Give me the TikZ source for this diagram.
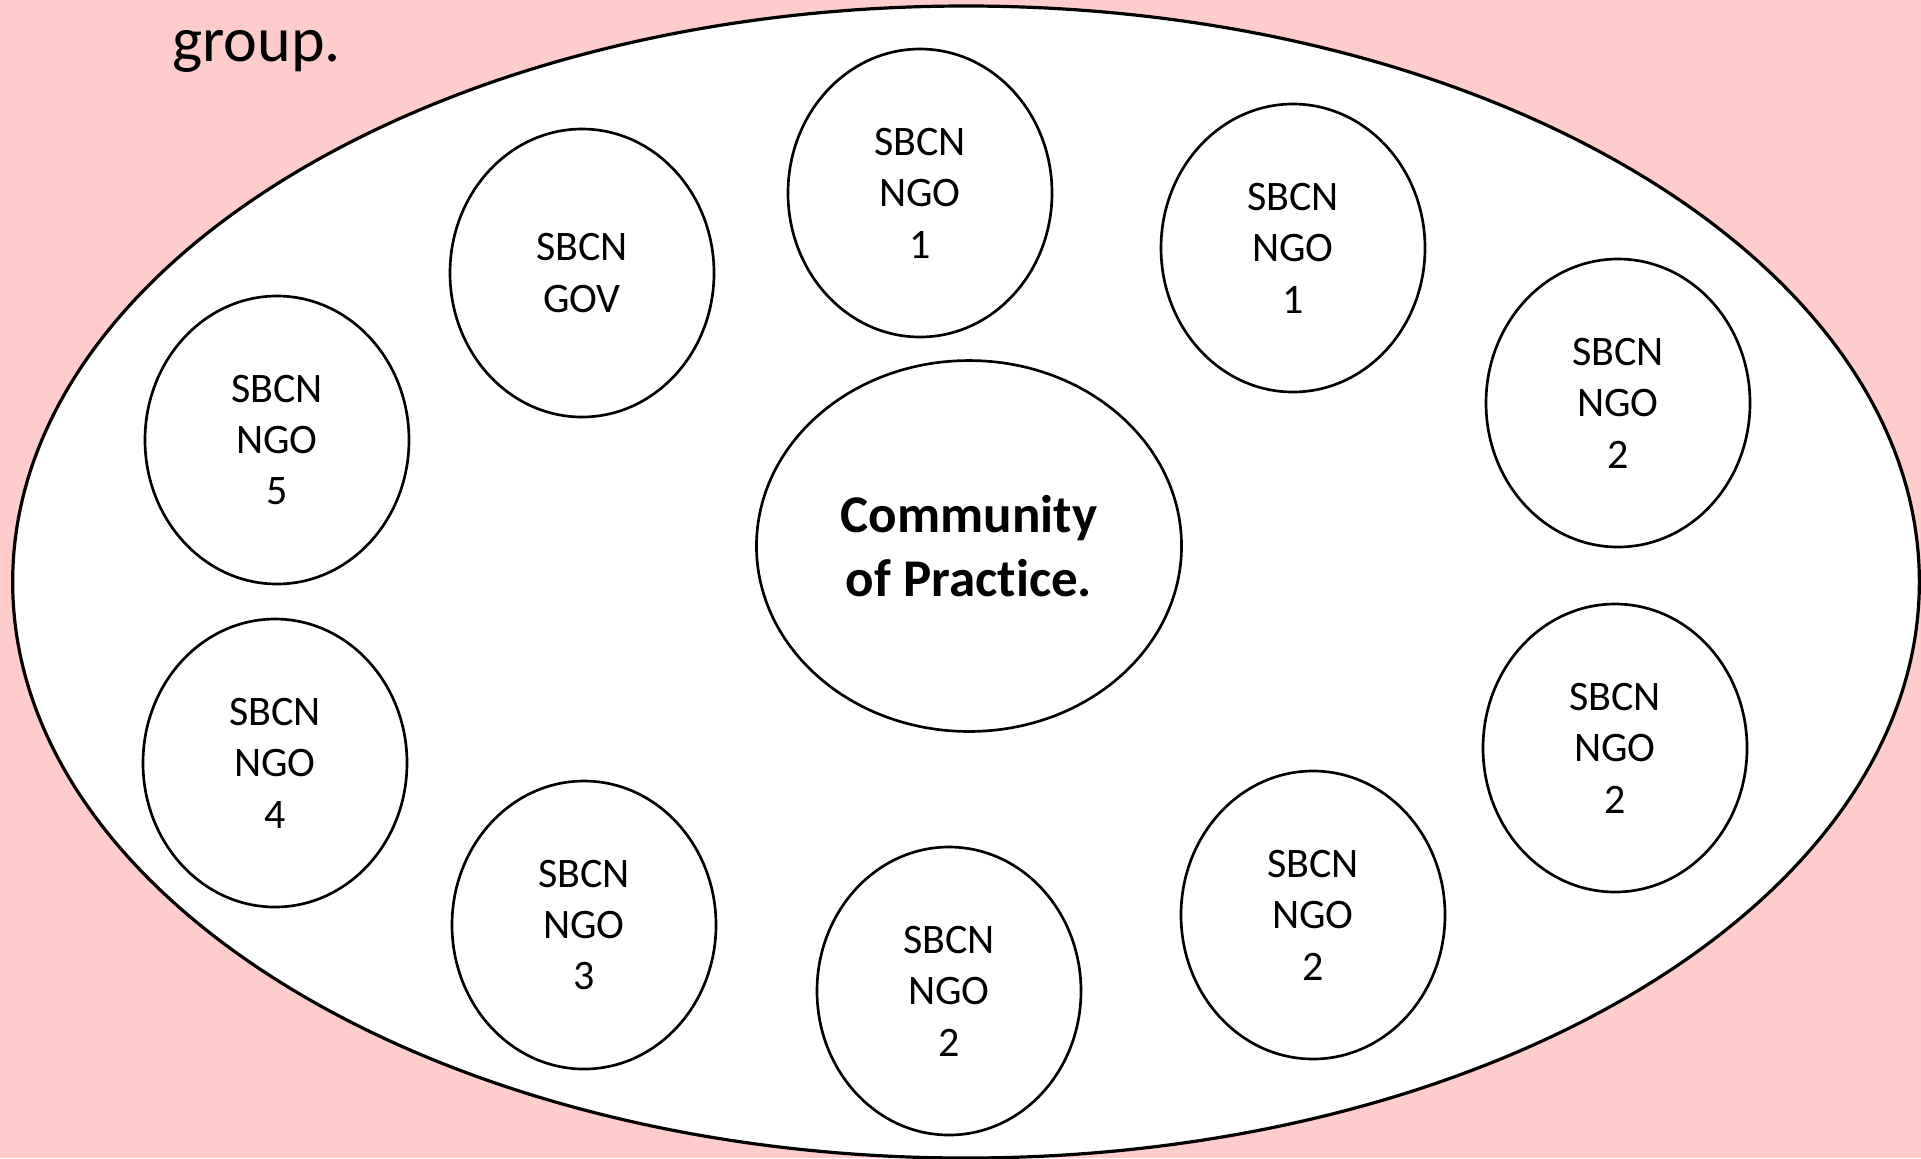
\documentclass[tikz,border=0pt]{standalone}
\usepackage{fontspec}
\setmainfont{Carlito}[Ligatures={NoCommon}]
\usetikzlibrary{shapes.geometric}
\definecolor{bgpink}{HTML}{FFCCCC}
\tikzset{
  member/.style={ellipse, draw=black, line width=1pt, fill=white, inner sep=0pt,
    minimum width=99pt, minimum height=108pt, align=center,
    font=\fontsize{15.75}{19.3}\selectfont},
  core/.style={ellipse, draw=black, line width=1pt, fill=white, inner sep=0pt,
    minimum width=159.4pt, minimum height=139.1pt, align=center,
    font=\fontsize{19.9}{24}\selectfont\bfseries},
  outerring/.style={ellipse, draw=black, line width=1.2pt, fill=white, inner sep=0pt,
    minimum width=715pt, minimum height=432pt},
  caption/.style={anchor=base west, inner sep=0pt, font=\fontsize{24}{29}\selectfont}
}
\begin{document}
\begin{tikzpicture}[x=0.375pt,y=-0.375pt]
\useasboundingbox (0,0) rectangle (1921,1158);
\begin{scope}
\clip (0,0) rectangle (1921,1158);
\fill[bgpink] (0,0) rectangle (1921,1158);
\node[outerring] (outer) at (966,582) {};
\node[caption] (grp) at (172,61) {group.};
\node[member] (gov) at (582,273) {SBCN\\GOV};
\node[member] (ngo1a) at (920,193) {SBCN\\NGO\\1};
\node[member] (ngo1b) at (1293,248) {SBCN\\NGO\\1};
\node[member] (ngo2a) at (1618,403) {SBCN\\NGO\\2};
\node[member] (ngo2b) at (1615,748) {SBCN\\NGO\\2};
\node[member] (ngo2c) at (1313,915) {SBCN\\NGO\\2};
\node[member] (ngo2d) at (949,991) {SBCN\\NGO\\2};
\node[member] (ngo3) at (584,925) {SBCN\\NGO\\3};
\node[member] (ngo4) at (275,763) {SBCN\\NGO\\4};
\node[member] (ngo5) at (277,440) {SBCN\\NGO\\5};
\node[core] (cop) at (969,546) {Community\\of Practice.};
\end{scope}
\end{tikzpicture}
\end{document}
